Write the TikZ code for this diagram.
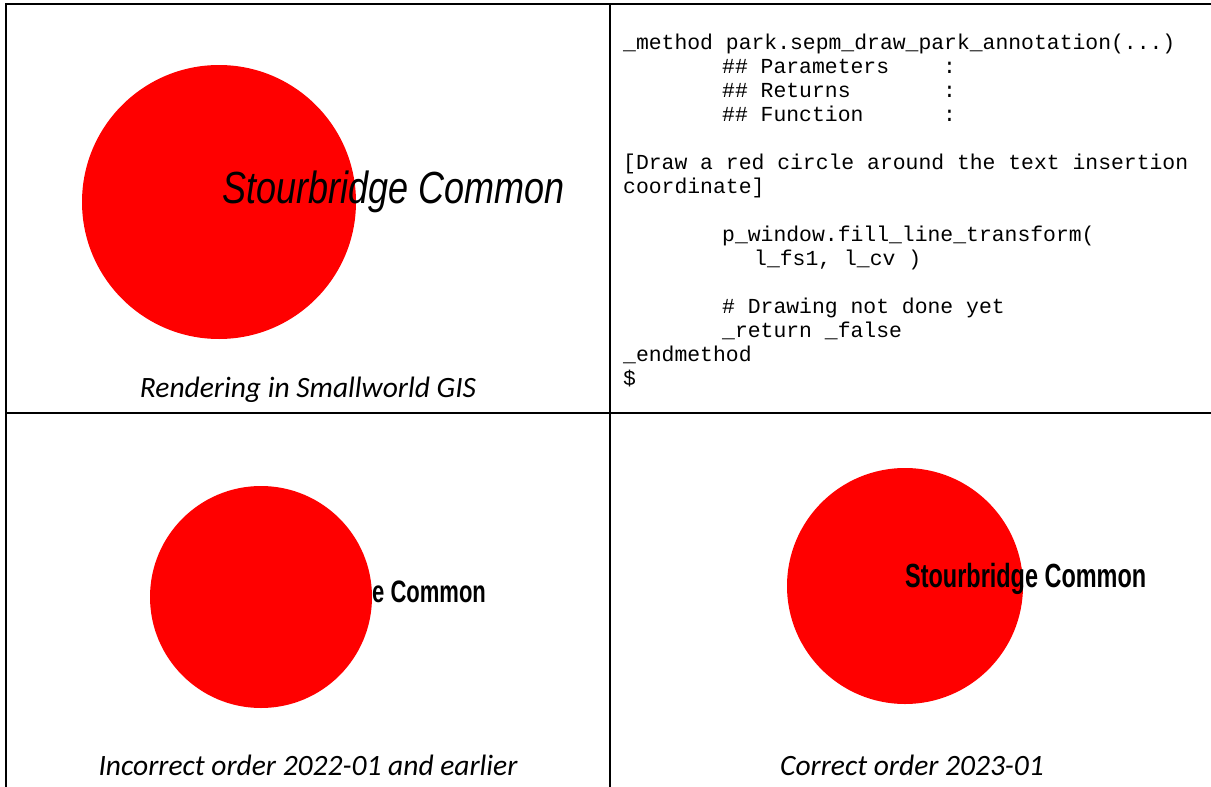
\documentclass[tikz,border=0pt]{standalone}
\usepackage{fontspec}
\usepackage{graphicx}
\setmainfont{Carlito}
\newfontfamily\codefont{Liberation Mono}
\newfontfamily\mapfont{Liberation Sans}
\usetikzlibrary{positioning}

\begin{document}
\begin{tikzpicture}[x=1pt,y=-1pt]
\tikzset{
  rule/.style={line width=2pt},
  park/.style={fill={rgb,255:red,255;green,0;blue,0}},
  caption/.style={anchor=base, inner sep=0pt, font=\fontsize{29.5}{32}\selectfont\itshape},
  maplabel/.style={anchor=base west, inner sep=0pt},
}
\useasboundingbox (0,0) rectangle (1211,787);

% table rules
\draw[rule] (5,4) -- (1211,4);
\draw[rule] (6,4) -- (6,787);
\draw[rule] (610,4) -- (610,787);
\draw[rule] (6,413) -- (1211,413);

% top left: rendering in Smallworld
\fill[park] (219,202) circle (137);
\node[maplabel, font=\mapfont\itshape\fontsize{45}{50}\selectfont] (swlabel) at (222,203)
  {\scalebox{0.80}[1]{Stourbridge Common}};
\node[caption] (swcap) at (308,397) {Rendering in Smallworld GIS};

% top right: Magik source
\node[anchor=north west, inner sep=0pt, align=left,
      font=\codefont\fontsize{21.4}{24}\selectfont] (code) at (623,34) {%
\_method park.sepm\_draw\_park\_annotation(...)\\
\hspace*{99pt}\makebox[221pt][l]{\#\# Parameters}:\\
\hspace*{99pt}\makebox[221pt][l]{\#\# Returns}:\\
\hspace*{99pt}\makebox[221pt][l]{\#\# Function}:\\
\mbox{}\\
{[}Draw a red circle around the text insertion\\
coordinate]\\
\mbox{}\\
\hspace*{99pt}p\_window.fill\_line\_transform(\\
\hspace*{131pt}l\_fs1, l\_cv )\\
\mbox{}\\
\hspace*{99pt}\# Drawing not done yet\\
\hspace*{99pt}\_return \_false\\
\_endmethod\\
\$};

% bottom left: text drawn before the circle
\fill[park] (261,597) circle (111);
\node[maplabel, font=\mapfont\bfseries\fontsize{31}{34}\selectfont] (oldlabel) at (372,602)
  {\scalebox{0.71}[1]{e Common}};
\node[caption] (oldcap) at (308,775) {Incorrect order 2022-01 and earlier};

% bottom right: text drawn after the circle
\fill[park] (905,586) circle (118);
\node[maplabel, font=\mapfont\bfseries\fontsize{33.5}{36}\selectfont] (newlabel) at (905,587)
  {\scalebox{0.70}[1]{Stourbridge Common}};
\node[caption] (newcap) at (912,775) {Correct order 2023-01};
\end{tikzpicture}
\end{document}
